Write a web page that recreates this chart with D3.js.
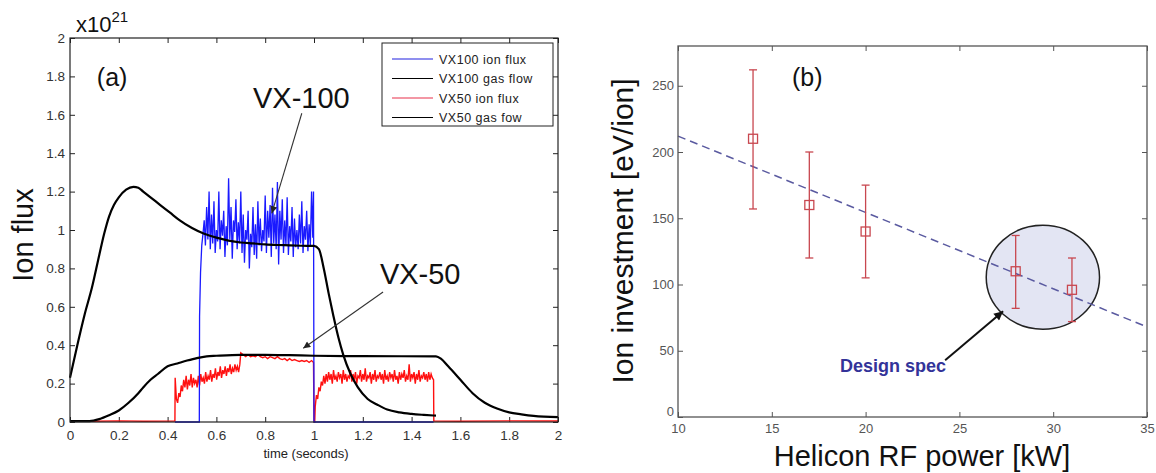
<!DOCTYPE html>
<html>
<head>
<meta charset="utf-8">
<script src="https://cdn.jsdelivr.net/npm/d3@7"></script>
<style>
  body { margin: 0; background: #fff; }
  text { font-family: Arial, "Liberation Sans", sans-serif; }
</style>
</head>
<body>
<div id="chart"></div>
<script>
// ---------- panel (a) data : time (s) / ion flux (x10^21) ----------
const vx100GasT = [0, 0.03, 0.06, 0.09, 0.12, 0.14, 0.16, 0.18, 0.20, 0.23, 0.26, 0.28, 0.30, 0.33, 0.37, 0.41, 0.45, 0.50, 0.55, 0.60, 0.65, 0.70, 0.75, 0.80, 0.85, 0.90, 0.95, 1.0,
  1.02, 1.04, 1.06, 1.08, 1.10, 1.12, 1.15, 1.18, 1.22, 1.26, 1.30, 1.35, 1.40, 1.45, 1.50];
const vx100GasV = [0.23, 0.40, 0.56, 0.70, 0.87, 0.98, 1.07, 1.13, 1.17, 1.21, 1.225, 1.22, 1.2, 1.17, 1.13, 1.09, 1.05, 1.01, 0.98, 0.96, 0.945, 0.935, 0.93, 0.925, 0.922, 0.92, 0.918, 0.917,
  0.90, 0.80, 0.67, 0.55, 0.44, 0.35, 0.25, 0.18, 0.12, 0.09, 0.065, 0.05, 0.042, 0.037, 0.033];

const vx50GasT = [0, 0.08, 0.12, 0.16, 0.20, 0.24, 0.28, 0.30, 0.33, 0.36, 0.40, 0.44, 0.48, 0.52, 0.56, 0.60, 0.70, 0.80, 0.90, 1.0, 1.2, 1.5,
  1.52, 1.55, 1.60, 1.65, 1.70, 1.75, 1.80, 1.85, 1.90, 2.0];
const vx50GasV = [0.005, 0.005, 0.015, 0.035, 0.06, 0.10, 0.15, 0.18, 0.22, 0.25, 0.29, 0.305, 0.32, 0.333, 0.342, 0.345, 0.35, 0.35, 0.348, 0.345, 0.343, 0.342,
  0.33, 0.29, 0.22, 0.15, 0.10, 0.07, 0.05, 0.04, 0.032, 0.025];

// VX100 ion flux
const vx100IonRampT = [0.43, 0.53, 0.531, 0.535, 0.54];
const vx100IonRampV = [0, 0, 0.55, 0.78, 0.92];
const vx100IonNoiseStart = 0.545, noiseStep = 0.005;
const vx100IonNoise = [
  0.98, 1.05, 0.92, 1.12, 0.95, 1.2, 0.9, 1.08, 0.93, 1.15,
  0.88, 1.0, 0.94, 1.2, 0.9, 1.05, 0.97, 1.1, 0.86, 1.02,
  0.92, 1.27, 0.95, 1.12, 0.85, 1.05, 0.99, 1.16, 0.9, 1.04,
  0.93, 1.2, 0.88, 1.08, 0.83, 1.0, 0.95, 1.1, 0.8, 0.98,
  0.91, 1.12, 0.87, 1.03, 0.85, 1.15, 0.92, 1.06, 0.89, 1.0,
  0.94, 1.18, 0.88, 1.1, 0.96, 1.13, 0.86, 1.22, 0.93, 1.08,
  0.9, 1.25, 0.82, 1.1, 0.95, 1.16, 0.88, 1.05, 0.92, 1.17,
  0.87, 1.02, 0.94, 1.12, 0.86, 1.06, 0.91, 1.0, 0.9, 1.08,
  0.93, 1.15, 0.88, 1.02, 0.95, 1.1, 0.89, 1.03, 0.92, 1.2, 0.96];
const vx100IonTailT = [0.998, 1.0, 1.49];
const vx100IonTailV = [1.2, 0, 0];

// VX50 ion flux
const vx50IonBaseT = [0, 0.1, 0.2, 0.3, 0.43];
const vx50IonBaseV = [0.005, 0.004, 0.006, 0.004, 0.005];
const vx50IonRiseStart = 0.431;
const vx50IonRise = [
  0.23, 0.12, 0.10, 0.15, 0.13, 0.19, 0.16, 0.22, 0.18, 0.24,
  0.17, 0.22, 0.19, 0.25, 0.18, 0.23, 0.20, 0.22, 0.18, 0.24,
  0.19, 0.25, 0.21, 0.23, 0.20, 0.26, 0.21, 0.24, 0.22, 0.27,
  0.21, 0.25, 0.23, 0.28, 0.22, 0.26, 0.24, 0.29, 0.23, 0.27,
  0.25, 0.29, 0.24, 0.28, 0.26, 0.30, 0.25, 0.28, 0.26, 0.30,
  0.27, 0.29, 0.26, 0.30];
const vx50IonHighStart = 0.70, highStep = 0.01;
const vx50IonHigh = [0.36, 0.35, 0.34, 0.35, 0.34, 0.345, 0.34, 0.35, 0.34, 0.335,
  0.34, 0.33, 0.34, 0.335, 0.33, 0.34, 0.33, 0.325, 0.33, 0.32,
  0.33, 0.32, 0.325, 0.32, 0.315, 0.32, 0.315, 0.32, 0.31, 0.32];
const vx50IonGapT = [0.998, 1.0, 1.003];
const vx50IonGapV = [0.31, 0, 0];
const vx50IonSecondStart = 1.005;
const vx50IonSecond = [
  0.08, 0.14, 0.12, 0.18, 0.16, 0.21, 0.19, 0.24, 0.20, 0.25,
  0.21, 0.26, 0.22, 0.25, 0.20, 0.27, 0.22, 0.24, 0.21, 0.26,
  0.23, 0.25, 0.20, 0.27, 0.22, 0.25, 0.21, 0.24, 0.23, 0.27,
  0.21, 0.25, 0.22, 0.26, 0.20, 0.24, 0.23, 0.27, 0.21, 0.25,
  0.22, 0.28, 0.21, 0.24, 0.23, 0.26, 0.20, 0.25, 0.22, 0.27,
  0.21, 0.24, 0.23, 0.26, 0.22, 0.25, 0.20, 0.27, 0.22, 0.24,
  0.21, 0.26, 0.23, 0.25, 0.21, 0.27, 0.22, 0.24, 0.20, 0.26,
  0.22, 0.25, 0.23, 0.27, 0.21, 0.24, 0.22, 0.30, 0.21, 0.25,
  0.23, 0.26, 0.20, 0.25, 0.22, 0.27, 0.21, 0.24, 0.23, 0.26,
  0.22, 0.25, 0.21, 0.26, 0.22, 0.25, 0.23];
const vx50IonEndT = [1.49, 1.491, 1.6, 1.8, 2.0];
const vx50IonEndV = [0.22, 0.005, 0.004, 0.006, 0.005];

const legendLabels = ["VX100 ion flux", "VX100 gas flow", "VX50 ion flux", "VX50 gas fow"];
const xTicksA = d3.range(0, 2.01, 0.2);
const yTicksA = d3.range(0, 2.01, 0.2);

// ---------- panel (b) data ----------
const rfPower = [14, 17, 20, 28, 31];
const ionInvest = [210, 160, 140, 110, 96];
const errLow = [157, 120, 105, 82, 72];
const errHigh = [262, 200, 175, 137, 120];
const fitX = [10, 35];
const fitY = [212, 68];
const xTicksB = [10, 15, 20, 25, 30, 35];
const yTicksB = [0, 50, 100, 150, 200, 250];

const W = 1156, H = 473;
const svg = d3.select("#chart").append("svg")
  .attr("width", W).attr("height", H)
  .style("background", "#fff");

const defs = svg.append("defs");
defs.append("marker").attr("id", "headThin")
  .attr("viewBox", "0 0 10 10").attr("refX", 10).attr("refY", 5)
  .attr("markerWidth", 9).attr("markerHeight", 7).attr("markerUnits", "userSpaceOnUse")
  .attr("orient", "auto")
  .append("path").attr("d", "M0,0 L10,5 L0,10 Z").attr("fill", "#222");
defs.append("marker").attr("id", "headBold")
  .attr("viewBox", "0 0 10 10").attr("refX", 10).attr("refY", 5)
  .attr("markerWidth", 11).attr("markerHeight", 9).attr("markerUnits", "userSpaceOnUse")
  .attr("orient", "auto")
  .append("path").attr("d", "M0,0 L10,5 L0,10 Z").attr("fill", "#111");

const zip = (ts, vs) => ts.map((t, i) => [t, vs[i]]);
const grid = (start, step, vs) => vs.map((v, i) => [start + i * step, v]);
const fmt = d => String(+d.toFixed(1));

// ================= panel (a) =================
const xA = d3.scaleLinear().domain([0, 2]).range([70, 558]);
const yA = d3.scaleLinear().domain([0, 2]).range([422, 38]);
const gA = svg.append("g");

const axisColA = "#222";
gA.append("g").attr("transform", `translate(0,${yA(0)})`)
  .call(d3.axisBottom(xA).tickValues(xTicksA).tickFormat(fmt).tickSizeInner(-5).tickSizeOuter(0).tickPadding(8));
gA.append("g").attr("transform", `translate(0,${yA(2)})`)
  .call(d3.axisTop(xA).tickValues(xTicksA).tickFormat("").tickSizeInner(-5).tickSizeOuter(0));
gA.append("g").attr("transform", `translate(${xA(0)},0)`)
  .call(d3.axisLeft(yA).tickValues(yTicksA).tickFormat(fmt).tickSizeInner(-5).tickSizeOuter(0).tickPadding(5));
gA.append("g").attr("transform", `translate(${xA(2)},0)`)
  .call(d3.axisRight(yA).tickValues(yTicksA).tickFormat("").tickSizeInner(-5).tickSizeOuter(0));
gA.selectAll(".domain").remove();
gA.selectAll(".tick line").attr("stroke", axisColA);
gA.selectAll(".tick text").attr("font-size", 13.5).attr("fill", "#333")
  .attr("font-family", "Arial, 'Liberation Sans', sans-serif");

const lineA = d3.line().x(d => xA(d[0])).y(d => yA(d[1]));
const smoothA = d3.line().x(d => xA(d[0])).y(d => yA(d[1])).curve(d3.curveMonotoneX);

const blueData = [].concat(zip(vx100IonRampT, vx100IonRampV),
  grid(vx100IonNoiseStart, noiseStep, vx100IonNoise), zip(vx100IonTailT, vx100IonTailV));
const redData = [].concat(zip(vx50IonBaseT, vx50IonBaseV),
  grid(vx50IonRiseStart, noiseStep, vx50IonRise),
  grid(vx50IonHighStart, highStep, vx50IonHigh),
  zip(vx50IonGapT, vx50IonGapV),
  grid(vx50IonSecondStart, noiseStep, vx50IonSecond),
  zip(vx50IonEndT, vx50IonEndV));

gA.append("path").datum(redData).attr("d", lineA)
  .attr("fill", "none").attr("stroke", "#ff1010").attr("stroke-width", 1.4);
gA.append("path").datum(blueData).attr("d", lineA)
  .attr("fill", "none").attr("stroke", "#1a1aff").attr("stroke-width", 1.3);
gA.append("path").datum(zip(vx50GasT, vx50GasV)).attr("d", smoothA)
  .attr("fill", "none").attr("stroke", "#000").attr("stroke-width", 2.2);
gA.append("path").datum(zip(vx100GasT, vx100GasV)).attr("d", smoothA)
  .attr("fill", "none").attr("stroke", "#000").attr("stroke-width", 2.2);

// frame
gA.append("rect").attr("x", xA(0)).attr("y", yA(2))
  .attr("width", xA(2) - xA(0)).attr("height", yA(0) - yA(2))
  .attr("fill", "none").attr("stroke", axisColA).attr("stroke-width", 1.2);

// legend
const leg = gA.append("g").attr("transform", "translate(382,43)");
leg.append("rect").attr("width", 171).attr("height", 83)
  .attr("fill", "#fff").attr("stroke", "#222").attr("stroke-width", 1);
const legColors = ["#2020e0", "#000", "#e8304a", "#000"];
legendLabels.forEach((lab, i) => {
  const yy = 16 + i * 19.5;
  leg.append("line").attr("x1", 10).attr("x2", 51).attr("y1", yy).attr("y2", yy)
    .attr("stroke", legColors[i]).attr("stroke-width", 1.2);
  leg.append("text").attr("x", 57).attr("y", yy + 4.5).attr("font-size", 12.5)
    .attr("letter-spacing", "0.5px").attr("fill", "#222").text(lab);
});

// labels
gA.append("text").attr("x", xA(1) - 8).attr("y", 458).attr("text-anchor", "middle")
  .attr("font-size", 13).attr("fill", "#222").text("time (seconds)");
gA.append("text").attr("transform", "translate(33,235) rotate(-90)")
  .attr("text-anchor", "middle").attr("font-size", 29).attr("fill", "#111").text("Ion flux");
const expo = gA.append("text").attr("x", 76).attr("y", 32).attr("font-size", 22).attr("fill", "#111");
expo.append("tspan").text("x10");
expo.append("tspan").attr("dy", -10).attr("font-size", 15).text("21");
gA.append("text").attr("x", xA(0.11)).attr("y", yA(1.75)).attr("font-size", 25).attr("fill", "#111").text("(a)");
gA.append("text").attr("x", xA(0.75)).attr("y", yA(1.635)).attr("font-size", 29).attr("fill", "#111").text("VX-100");
gA.append("text").attr("x", xA(1.27)).attr("y", yA(0.719)).attr("font-size", 29).attr("fill", "#111").text("VX-50");
gA.append("line").attr("x1", xA(0.95)).attr("y1", yA(1.608)).attr("x2", xA(0.827)).attr("y2", yA(1.087))
  .attr("stroke", "#333").attr("stroke-width", 1.1).attr("marker-end", "url(#headThin)");
gA.append("line").attr("x1", xA(1.283)).attr("y1", yA(0.677)).attr("x2", xA(0.956)).attr("y2", yA(0.384))
  .attr("stroke", "#333").attr("stroke-width", 1.1).attr("marker-end", "url(#headThin)");

// ================= panel (b) =================
const xB = d3.scaleLinear().domain([10, 35]).range([678, 1147]);
const yB = d3.scaleLinear().domain([0, 280]).range([417, 46]);
const gB = svg.append("g");
const axisColB = "#555";

gB.append("g").attr("transform", `translate(0,${yB(0)})`)
  .call(d3.axisBottom(xB).tickValues(xTicksB).tickSizeInner(-5).tickSizeOuter(0).tickPadding(7));
gB.append("g").attr("transform", `translate(0,${yB(280)})`)
  .call(d3.axisTop(xB).tickValues(xTicksB).tickFormat("").tickSizeInner(-5).tickSizeOuter(0));
gB.append("g").attr("class", "yaxisB").attr("transform", `translate(${xB(10)},0)`)
  .call(d3.axisLeft(yB).tickValues(yTicksB).tickSizeInner(-5).tickSizeOuter(0).tickPadding(4));
gB.append("g").attr("transform", `translate(${xB(35)},0)`)
  .call(d3.axisRight(yB).tickValues(yTicksB).tickFormat("").tickSizeInner(-5).tickSizeOuter(0));
gB.selectAll(".domain").remove();
gB.selectAll(".tick line").attr("stroke", axisColB);
gB.selectAll(".tick text").attr("font-size", 13).attr("fill", "#555")
  .attr("font-family", "Arial, 'Liberation Sans', sans-serif");
// MATLAB nudges the zero label up so it clears the "10" below it
gB.select(".yaxisB").selectAll(".tick").filter(d => d === 0).select("text").attr("dy", "-0.1em");

// design-spec ellipse
gB.append("ellipse").attr("cx", xB(29.45)).attr("cy", yB(105.5))
  .attr("rx", xB(29.45 + 3.02) - xB(29.45)).attr("ry", yB(0) - yB(39.3))
  .attr("fill", "#e3e5f3").attr("stroke", "#222").attr("stroke-width", 1.5);

// fitted trend
gB.append("line").attr("x1", xB(fitX[0])).attr("y1", yB(fitY[0]))
  .attr("x2", xB(fitX[1])).attr("y2", yB(fitY[1]))
  .attr("stroke", "#5a5aa0").attr("stroke-width", 1.5).attr("stroke-dasharray", "8,5");

// error bars
const errCol = "#c8474f";
const pts = rfPower.map((p, i) => ({ p, v: ionInvest[i], lo: errLow[i], hi: errHigh[i] }));
gB.selectAll(".ebar").data(pts).join("line").attr("class", "ebar")
  .attr("x1", d => xB(d.p)).attr("x2", d => xB(d.p))
  .attr("y1", d => yB(d.lo)).attr("y2", d => yB(d.hi))
  .attr("stroke", errCol).attr("stroke-width", 1.3);
["lo", "hi"].forEach(k => {
  gB.selectAll(".cap" + k).data(pts).join("line").attr("class", "cap" + k)
    .attr("x1", d => xB(d.p) - 4).attr("x2", d => xB(d.p) + 4)
    .attr("y1", d => yB(d[k])).attr("y2", d => yB(d[k]))
    .attr("stroke", errCol).attr("stroke-width", 1.3);
});
gB.selectAll(".sq").data(pts).join("rect").attr("class", "sq")
  .attr("x", d => xB(d.p) - 4.5).attr("y", d => yB(d.v) - 4.5)
  .attr("width", 9).attr("height", 9)
  .attr("fill", "none").attr("stroke", errCol).attr("stroke-width", 1.3);

// frame
gB.append("rect").attr("x", xB(10)).attr("y", yB(280))
  .attr("width", xB(35) - xB(10)).attr("height", yB(0) - yB(280))
  .attr("fill", "none").attr("stroke", axisColB).attr("stroke-width", 1.3);

// labels
gB.append("text").attr("x", 922).attr("y", 466).attr("text-anchor", "middle")
  .attr("font-size", 29).attr("fill", "#111").text("Helicon RF power [kW]");
gB.append("text").attr("transform", "translate(633,231) rotate(-90)")
  .attr("text-anchor", "middle").attr("font-size", 30).attr("fill", "#111").text("Ion investment [eV/ion]");
gB.append("text").attr("x", xB(16.08)).attr("y", yB(249.8)).attr("font-size", 25).attr("fill", "#111").text("(b)");
gB.append("text").attr("x", xB(18.64)).attr("y", yB(33.8)).attr("font-size", 18).attr("font-weight", "bold")
  .attr("fill", "#333399").text("Design spec");
gB.append("line").attr("x1", xB(24.24)).attr("y1", yB(42.8)).attr("x2", xB(27.33)).attr("y2", yB(79.8))
  .attr("stroke", "#111").attr("stroke-width", 2).attr("marker-end", "url(#headBold)");
</script>
</body>
</html>
